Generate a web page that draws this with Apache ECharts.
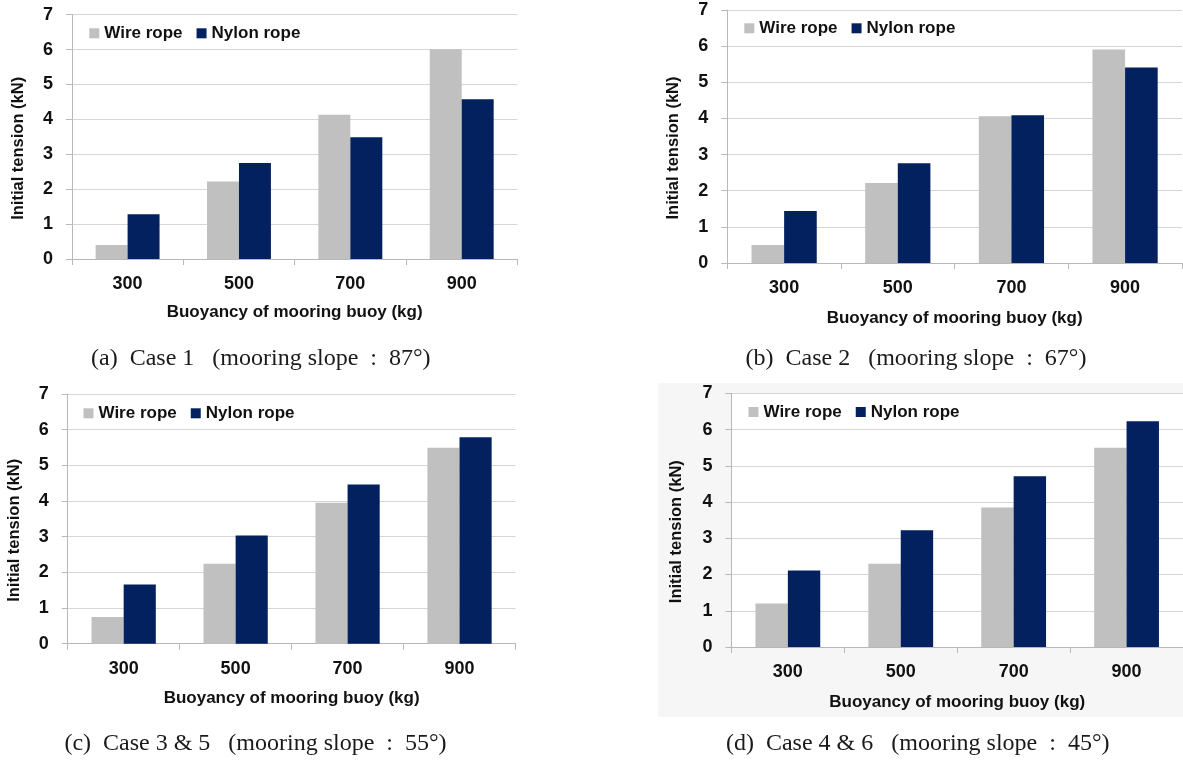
<!DOCTYPE html>
<html>
<head>
<meta charset="utf-8">
<script src="https://cdn.jsdelivr.net/npm/echarts@6/dist/echarts.min.js"></script>
<style>
html,body{margin:0;padding:0;background:#fff;}
#chart{width:1183px;height:760px;}
</style>
</head>
<body>
<div id="chart"></div>
<script>
const categories = ['300', '500', '700', '900'];
const seriesNames = ['Wire rope', 'Nylon rope'];
const wireA = [0.40, 2.22, 4.13, 6.01];
const nylonA = [1.28, 2.75, 3.49, 4.58];
const wireB = [0.50, 2.21, 4.06, 5.91];
const nylonB = [1.44, 2.76, 4.09, 5.41];
const wireC = [0.75, 2.24, 3.95, 5.49];
const nylonC = [1.66, 3.03, 4.46, 5.79];
const wireD = [1.20, 2.30, 3.85, 5.50];
const nylonD = [2.11, 3.22, 4.71, 6.23];
const yMin = 0, yMax = 7, yInterval = 1;
const xTitle = 'Buoyancy of mooring buoy (kg)';
const yTitle = 'Initial tension (kN)';
const captions = [
  '(a)  Case 1   (mooring slope  :  87°)',
  '(b)  Case 2   (mooring slope  :  67°)',
  '(c)  Case 3 & 5   (mooring slope  :  55°)',
  '(d)  Case 4 & 6   (mooring slope  :  45°)'
];

const FONT = '"Liberation Sans", Arial, sans-serif';
const WIRE = '#c0c0c0';
const NYLON = '#02215e';
const TXT = '#111111';

const panels = [
  {grid:{left:71.9, top:14.7, width:445.5, height:244.3}, legend:{left:89.3, cy:33.3}, xGap:44.5, yGap:44.5, wire:wireA, nylon:nylonA, cap:{x:260.8, y:359}},
  {grid:{left:727.3, top:10, width:454.6, height:253}, legend:{left:744.3, cy:28.3}, xGap:46.5, yGap:45.5, wire:wireB, nylon:nylonB, cap:{x:916, y:359}},
  {grid:{left:67.7, top:394, width:447.8, height:249.7}, legend:{left:83.5, cy:413.3}, xGap:46, yGap:45, wire:wireC, nylon:nylonC, cap:{x:255.5, y:744}},
  {grid:{left:731.4, top:393.3, width:453.6, height:253.7}, legend:{left:748.5, cy:412}, xGap:46.5, yGap:46, wire:wireD, nylon:nylonD, cap:{x:917.7, y:744}}
];

const option = {
  animation: false,
  backgroundColor: '#ffffff',
  textStyle: {fontFamily: FONT},
  grid: panels.map(p => Object.assign({containLabel:false, backgroundColor:'#ffffff', show:true, borderWidth:0}, p.grid)),
  legend: panels.map(p => ({
    left: p.legend.left, top: p.legend.cy - 9, padding: 0,
    orient: 'horizontal', itemWidth: 10, itemHeight: 10, itemGap: 14,
    icon: 'rect', data: seriesNames,
    selectedMode: false,
    textStyle: {fontFamily: FONT, fontSize: 17, fontWeight: 'bold', color: TXT, lineHeight: 18}
  })),
  xAxis: panels.map((p, i) => ({
    type: 'category', gridIndex: i, data: categories,
    name: xTitle, nameLocation: 'middle', nameGap: p.xGap,
    nameTextStyle: {fontFamily: FONT, fontSize: 17, fontWeight: 'bold', color: TXT},
    axisLine: {show: true, lineStyle: {color: '#b8b8b8', width: 1}},
    axisTick: {show: true, alignWithLabel: false, length: 6, lineStyle: {color: '#b8b8b8'}},
    axisLabel: {margin: 16.5, fontFamily: FONT, fontSize: 18, fontWeight: 'bold', color: TXT},
    splitLine: {show: false}
  })),
  yAxis: panels.map((p, i) => ({
    type: 'value', gridIndex: i, min: yMin, max: yMax, interval: yInterval,
    name: yTitle, nameLocation: 'middle', nameGap: p.yGap,
    nameTextStyle: {fontFamily: FONT, fontSize: 16.5, fontWeight: 'bold', color: TXT, padding: [0, 23, 0, 0]},
    axisLine: {show: true, lineStyle: {color: '#b8b8b8', width: 1}},
    axisTick: {show: true, length: 6, lineStyle: {color: '#b8b8b8'}},
    axisLabel: {margin: 19, fontFamily: FONT, fontSize: 18, fontWeight: 'bold', color: TXT},
    splitLine: {show: true, lineStyle: {color: '#d6d6d6', width: 1}}
  })),
  series: [],
  graphic: []
};

// light background panel behind chart (d)
option.graphic.push({type: 'rect', z: -10, silent: true,
  shape: {x: 658, y: 383, width: 525, height: 334}, style: {fill: '#f6f6f6'}});

panels.forEach((p, i) => {
  option.series.push({
    name: seriesNames[0], type: 'bar', xAxisIndex: i, yAxisIndex: i, data: p.wire,
    barGap: '0%', barCategoryGap: '42.6%', itemStyle: {color: WIRE}
  });
  option.series.push({
    name: seriesNames[1], type: 'bar', xAxisIndex: i, yAxisIndex: i, data: p.nylon,
    barGap: '0%', barCategoryGap: '42.6%', itemStyle: {color: NYLON}
  });
  option.graphic.push({
    type: 'text', silent: true, x: p.cap.x, y: p.cap.y,
    style: {text: captions[i], font: '24px "Liberation Serif", "Times New Roman", serif',
      fill: '#1a1a1a', align: 'center', verticalAlign: 'middle'}
  });
});

const chart = echarts.init(document.getElementById('chart'), null, {renderer: 'canvas'});
chart.setOption(option);
</script>
</body>
</html>
